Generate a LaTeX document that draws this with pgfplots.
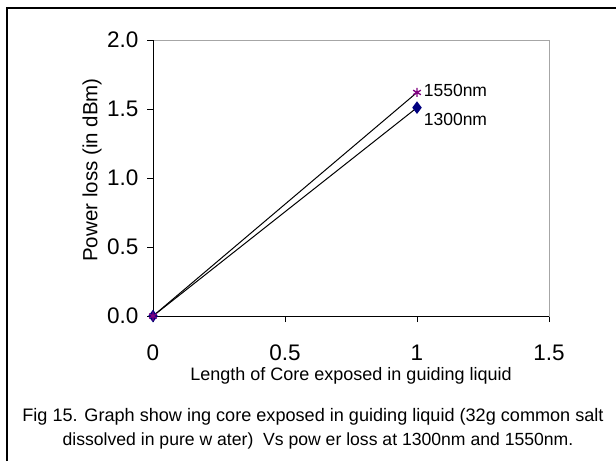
\documentclass[border=0pt]{standalone}
\usepackage{pgfplots}
\pgfplotsset{compat=1.18}
\usepackage{fontspec}
\setmainfont{Liberation Sans}
\definecolor{mkpurple}{HTML}{800080}
\definecolor{mknavy}{HTML}{000080}
\begin{document}
\begin{tikzpicture}[x=1pt,y=1pt]
\path[use as bounding box] (0,0) rectangle (616,-461);
\draw[line width=1.5pt] (7,-461) -- (7,-8) -- (616,-8);
\begin{axis}[
  at={(153pt,-316pt)}, anchor=south west,
  scale only axis, width=396pt, height=276pt,
  xmin=0, xmax=1.5, ymin=0, ymax=2,
  xtick={0,0.5,1,1.5}, ytick={0,0.5,1,1.5,2},
  xticklabels={0,0.5,1,1.5},
  axis line style={draw=gray!70, line width=1pt},
  tick align=outside, major tick length=6pt,
  tick style={black, line width=1pt},
  xtick pos=bottom, ytick pos=left,
  /pgf/number format/assume math mode=true,
  yticklabel style={/pgf/number format/fixed, /pgf/number format/fixed zerofill, /pgf/number format/precision=1, /tikz/xshift=-5pt},
  ticklabel style={font=\fontsize{22.5}{22.5}\selectfont},
  xticklabel style={yshift=-19pt},
  xlabel={Length of Core exposed in guiding liquid},
  ylabel={Power loss (in dBm)},
  xlabel style={font=\fontsize{18}{18}\selectfont, at={(axis description cs:0.5,-0.232)}, anchor=base},
  ylabel style={font=\fontsize{20.5}{20.5}\selectfont, at={(axis description cs:-0.154,0.529)}, anchor=center},
  clip=false,
]
\draw[black, line width=1pt] (rel axis cs:0,1) -- (rel axis cs:0,0) -- (rel axis cs:1,0);
\addplot[black, line width=1pt, mark=diamond*, mark size=5.5pt, mark options={mknavy, fill=mknavy, solid}]
  coordinates {(0,0) (1,1.51)}
  node[pos=1, anchor=west, xshift=3pt, yshift=-12pt, font=\fontsize{17.5}{17.5}\selectfont, text=black] {1300nm};
\addplot[black, line width=1pt, mark=asterisk, mark size=4.5pt, mark options={mkpurple, line width=1.3pt, solid}]
  coordinates {(0,0) (1,1.62)}
  node[pos=1, anchor=west, xshift=3pt, yshift=2pt, font=\fontsize{17.5}{17.5}\selectfont, text=black] {1550nm};
\end{axis}
\node[anchor=base, font=\fontsize{18.1}{18.1}\selectfont] at (313,-421) {Fig 15. Graph show ing core exposed in guiding liquid (32g common salt};
\node[anchor=base, font=\fontsize{17.6}{17.6}\selectfont] at (318,-445) {dissolved in pure w ater)\ \ Vs pow er loss at 1300nm and 1550nm.};
\end{tikzpicture}
\end{document}
